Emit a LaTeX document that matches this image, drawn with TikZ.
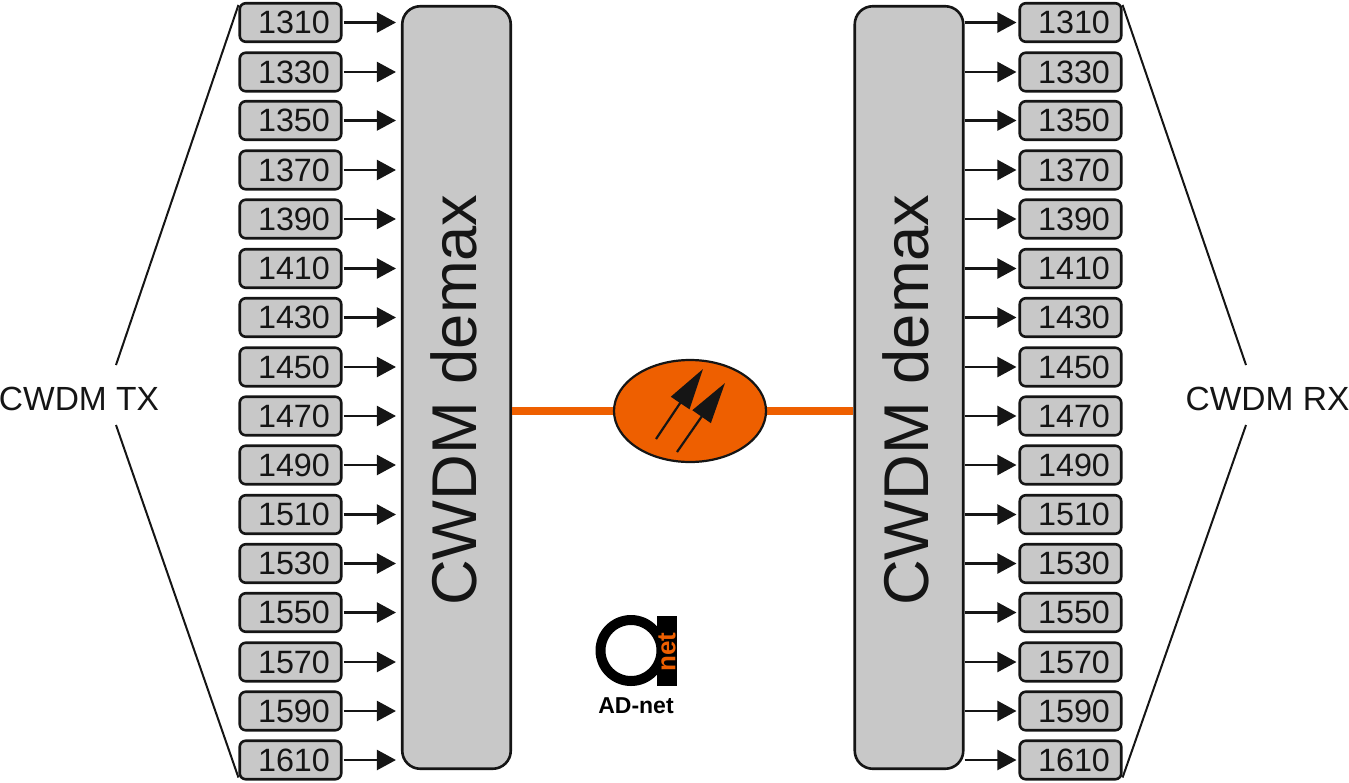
\documentclass[tikz,border=0pt]{standalone}
\usepackage{fontspec}
\setmainfont{Liberation Sans}
\usetikzlibrary{arrows.meta,shapes.geometric}
\definecolor{boxgray}{HTML}{C8C8C8}
\definecolor{fiber}{HTML}{EE5F00}
\definecolor{ink}{HTML}{151515}
\tikzset{
  lambdabox/.style={draw=ink,fill=boxgray,line width=2.6pt,rounded corners=6pt,minimum width=101.5pt,minimum height=38.5pt,inner sep=0pt,font=\fontsize{32.3}{32}\selectfont,text=ink},
  muxbox/.style={draw=ink,fill=boxgray,line width=2.6pt,rounded corners=18pt,minimum width=108.5pt,minimum height=762.5pt,inner sep=0pt},
  muxlabel/.style={rotate=90,inner sep=0pt,font=\fontsize{63.3}{63}\selectfont,text=ink},
  sidelabel/.style={inner sep=0pt,font=\fontsize{33.5}{33}\selectfont,text=ink},
  chanarrow/.style={draw=ink,line width=2.2pt,-{Triangle[length=19pt,width=20pt]}},
  brace/.style={draw=ink,line width=2pt},
  fiberline/.style={draw=fiber,line width=8pt},
  ampmark/.style={draw=ink,line width=2.2pt,-{Triangle[length=41pt,width=22pt]}}
}
\begin{document}
\begin{tikzpicture}[x=1pt,y=-1pt]
\useasboundingbox (0,0) rectangle (1349,782);
\node[muxbox] (demuxL) at (456.5,387.5) {};
\node[muxbox] (demuxR) at (909,387.5) {};
\node[muxlabel] (demuxLt) at (454,400) {CWDM demax};
\node[muxlabel] (demuxRt) at (906,400) {CWDM demax};
\foreach \i/\wl/\yy in {1/1310/22.5,2/1330/72,3/1350/120.5,4/1370/170,5/1390/219,6/1410/268.5,7/1430/317.5,8/1450/367,9/1470/416,10/1490/465,11/1510/514.5,12/1530/563.5,13/1550/612.5,14/1570/662,15/1590/711,16/1610/760}{
  \node[lambdabox] (l\i) at (290.5,\yy) {\hspace{7pt}\wl};
  \node[lambdabox] (r\i) at (1070.5,\yy) {\hspace{7pt}\wl};
  \draw[chanarrow,shorten <=1pt,shorten >=5pt] (l\i.east) -- (l\i.east -| demuxL.west);
  \draw[chanarrow,shorten >=2pt] (r\i.west -| demuxR.east) -- (r\i.west);
}
\node[sidelabel] (tx) at (79,399) {CWDM TX};
\node[sidelabel] (rx) at (1267.5,399) {CWDM RX};
\coordinate (txa) at (116,365);
\coordinate (txb) at (116,425);
\coordinate (rxa) at (1246,365);
\coordinate (rxb) at (1246,425);
\draw[brace] (txa) -- ([yshift=-3pt]l1.north west);
\draw[brace] (txb) -- ([yshift=3pt]l16.south west);
\draw[brace] (rxa) -- ([yshift=-3pt]r1.north east);
\draw[brace] (rxb) -- ([yshift=3pt]r16.south east);
\draw[fiberline] (demuxL.east |- 0,411) -- (690,411);
\draw[fiberline] (690,411) -- (demuxR.west |- 0,411);
\node[ellipse,draw=ink,fill=fiber,line width=2.2pt,minimum width=152pt,minimum height=102pt,inner sep=0pt] (amp) at (690,411) {};
\coordinate (m1a) at (656,439);
\coordinate (m1b) at (703,369);
\coordinate (m2a) at (677,452);
\coordinate (m2b) at (725,383);
\draw[ampmark] (m1a) -- (m1b);
\draw[ampmark] (m2a) -- (m2b);
\node[circle,draw=black,line width=10pt,minimum size=61pt,inner sep=0pt] (ring) at (631,650.5) {};
\node[fill=black,minimum width=20pt,minimum height=70pt,inner sep=0pt] (bar) at (667,651) {};
\node[rotate=90,inner sep=0pt,text=fiber,font=\bfseries\fontsize{26}{26}\selectfont] (nettext) at (667,652) {net};
\node[inner sep=0pt,text=black,font=\bfseries\fontsize{23}{23}\selectfont] (brand) at (636,706) {AD-net};
\end{tikzpicture}
\end{document}
